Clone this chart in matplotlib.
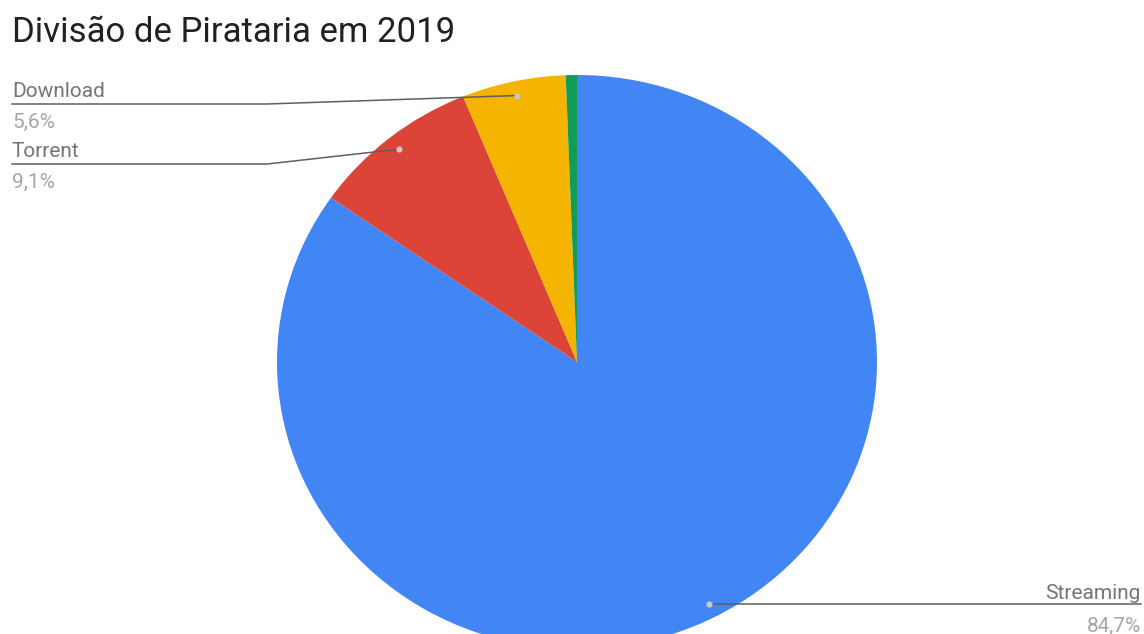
import numpy as np
import matplotlib.pyplot as plt

plt.rcParams['font.family'] = ['Roboto', 'DejaVu Sans']

titulo = "Divisão de Pirataria em 2019"
categorias = ["Streaming", "Torrent", "Download", "Outros"]
valores = [84.7, 9.1, 5.6, 0.6]
rotulos = ["84,7%", "9,1%", "5,6%", None]
cores = ["#4285F4", "#DB4437", "#F4B400", "#0F9D58"]

W, H = 1144, 634
# centro e raios da pizza em pixels (ligeiramente achatada na vertical)
cx, cy, rx, ry = 577, 362, 300, 287

fig = plt.figure(figsize=(W / 100, H / 100), dpi=100)
ax = fig.add_axes([0, 0, 1, 1])

wedges, _ = ax.pie(valores, colors=cores, startangle=90, counterclock=False,
                   radius=1, wedgeprops=dict(linewidth=0))
ax.set_aspect('auto')
ax.set_xlim(-cx / rx, (W - cx) / rx)
ax.set_ylim(-(H - cy) / ry, cy / ry)
ax.axis('off')


def px(x, y):
    # pixel da imagem (origem no canto superior) -> coordenada de dados
    return (x - cx) / rx, (cy - y) / ry


def ponto_fatia(w, frac=0.95):
    ang = np.deg2rad((w.theta1 + w.theta2) / 2)
    return frac * np.cos(ang), frac * np.sin(ang)


fig.text(12 / W, 1 - 42 / H, titulo, fontsize=25, color='#212121',
         va='baseline', ha='left')

linha = '#5f5f5f'
cor_nome = '#757575'
cor_pct = '#a6a6a6'
ponto = '#c8c8c8'
fs = 15

# rótulos à esquerda: (linha, base do nome, base da porcentagem)
esquerda = {"Download": (104, 97, 128), "Torrent": (164, 157, 188)}
for nome, (y_lin, y_nome, y_pct) in esquerda.items():
    i = categorias.index(nome)
    dx, dy = ponto_fatia(wedges[i])
    x0, y0 = px(12, y_lin)
    x1, _ = px(267, y_lin)
    ax.plot([x0, x1, dx], [y0, y0, dy], color=linha, lw=1.1, zorder=5)
    ax.plot(dx, dy, 'o', ms=4.5, color=ponto, mec='none', zorder=6)
    ax.text(*px(12, y_nome), nome, fontsize=fs, color=cor_nome,
            ha='left', va='baseline')
    ax.text(*px(12, y_pct), rotulos[i], fontsize=fs, color=cor_pct,
            ha='left', va='baseline')

# rótulo à direita (Streaming)
i = categorias.index("Streaming")
dx, dy = ponto_fatia(wedges[i])
x1, _ = px(1141, 0)
ax.plot([dx, x1], [dy, dy], color=linha, lw=1.1, zorder=5)
ax.plot(dx, dy, 'o', ms=4.5, color=ponto, mec='none', zorder=6)
ax.text(*px(1141, 599), categorias[i], fontsize=fs, color=cor_nome,
        ha='right', va='baseline')
ax.text(*px(1141, 632), rotulos[i], fontsize=fs, color=cor_pct,
        ha='right', va='baseline')

fig.savefig('out.png', dpi=100, facecolor='white')
